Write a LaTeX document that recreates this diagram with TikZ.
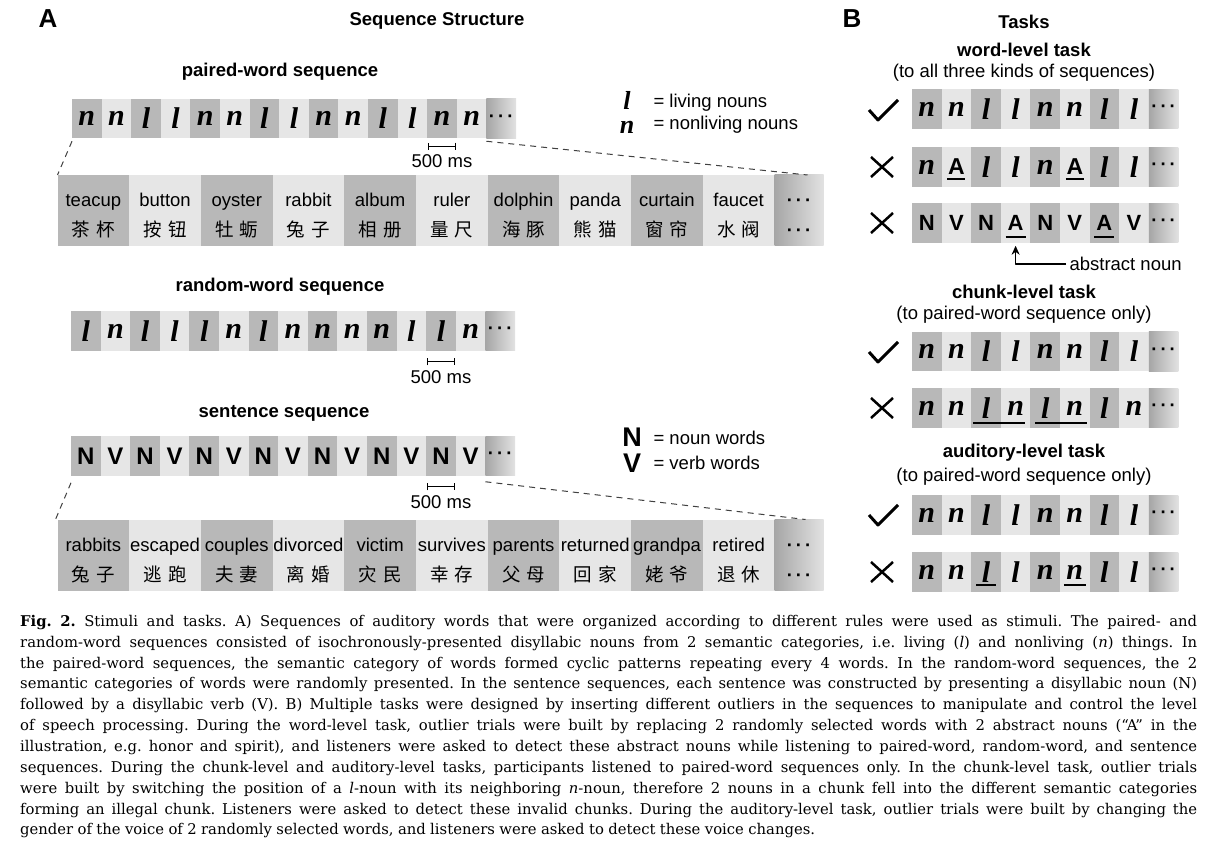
\documentclass[tikz,border=0pt]{standalone}
\usepackage{fontspec}
\setmainfont{Liberation Sans}
\newfontfamily\capfont{DejaVu Serif}
\newfontfamily\timesfont{Liberation Serif}
\newfontfamily\cjk{Noto Sans CJK SC}
\usetikzlibrary{arrows.meta,positioning}
\definecolor{dk}{RGB}{184,184,184}
\definecolor{lt}{RGB}{230,230,230}
\definecolor{dotl}{RGB}{166,166,166}
\definecolor{dotr}{RGB}{226,226,226}
\newcommand\fs[1]{\fontsize{#1}{#1}\selectfont}
\newcommand\dts{{\bfseries ·\kern3pt·\kern3pt·}}
\newcommand\ab{{\normalfont\bfseries\fs{23}A}}
\newcommand\capline[1]{\hbox to 1177pt{\spaceskip=4.4pt plus 1fill minus 1pt\relax#1}}
\newcommand\zhline[2]{\rule[-6pt]{0pt}{6pt}{\cjk#1\hspace{6pt}#2}}
\begin{document}
\begin{tikzpicture}[x=1pt,y=-1pt,>={Stealth[length=9pt,width=8pt]},line join=round,
	cell/.style={minimum width=29.6pt,minimum height=39.5pt,inner sep=0pt,outer sep=0pt},
	wcell/.style={minimum width=71.7pt,minimum height=71pt,inner sep=0pt,outer sep=0pt,align=center,font=\fontsize{18.5}{30}\selectfont},
	dots/.style={left color=dotl,right color=dotr,font=\fs{18.5}},
	it/.style={font=\timesfont\bfseries\itshape\fs{30}},
	nv/.style={font=\bfseries\fs{24}},
	panel/.style={font=\bfseries\fs{26}},
	ttl/.style={font=\bfseries\fs{18.5}},
	txt/.style={font=\fs{18.5}},
	zoomline/.style={dash pattern=on 6pt off 5pt,line width=1pt,black!75},
	bar/.style={arrows={Bar[width=7pt]-Bar[width=7pt]},line width=1pt},
	uline/.style={line width=2pt},
	okmark/.pic={\draw[line width=3pt] (-14,0) -- (-5,10) -- (15,-10);},
	nomark/.pic={\draw[line width=2.5pt] (-11,-10) -- (11,10) (-11,10) -- (11,-10);}]
	\fill[white] (0,0) rectangle (1227,861);
	\useasboundingbox (0,0) rectangle (1227,861);
	
	% A) sequence structure
	\node[panel] (pa) at (48,19) {A};
	\node[ttl] (sst) at (437,21) {Sequence Structure};
	\node[ttl] (pws) at (280,72) {paired-word sequence};
	\foreach \s [count=\i from 0] in {n,n,l,l,n,n,l,l,n,n,l,l,n,n}{
		\ifodd\i\def\tone{lt}\else\def\tone{dk}\fi
		\node[cell,fill=\tone,it] (p\i) at (86.8+\i*29.6,118.5) {\s};}
	\node[cell,dots,right=0pt of p13] (p14) {\dts};
	\draw[bar] ([xshift=1pt,yshift=-8pt]p12.south west) -- node[txt,yshift=-15pt] (pms) {500 ms} ([xshift=-1pt,yshift=-8pt]p12.south east);
	\node[it,font=\timesfont\bfseries\itshape\fs{26}] (lgl) at (627,100) {l};
	\node[txt,anchor=west] (lglt) at (650,103) {= living nouns};
	\node[it,font=\timesfont\bfseries\itshape\fs{26}] (lgn) at (627,127) {n};
	\node[txt,anchor=west] (lgnt) at (650,125) {= nonliving nouns};
	
	\foreach \w/\ha/\hb [count=\i from 0] in {teacup/茶/杯,button/按/钮,oyster/牡/蛎,rabbit/兔/子,album/相/册,ruler/量/尺,dolphin/海/豚,panda/熊/猫,curtain/窗/帘,faucet/水/阀}{
		\ifodd\i\def\tone{lt}\else\def\tone{dk}\fi
		\node[wcell,fill=\tone] (t\i) at (93.35+\i*71.7,210.5) {\rule{0pt}{28.3pt}\w\\\zhline{\ha}{\hb}};}
	\node[wcell,dots,minimum width=49pt,right=0pt of t9,font=\fontsize{18.5}{30}\selectfont] (t10) {\rule{0pt}{28.3pt}\dts\\\rule[-6pt]{0pt}{6pt}\dts};
	\draw[zoomline] ([yshift=-3pt]p0.south west) -- (t0.north west);
	\draw[zoomline] ([yshift=-3pt]p14.south west) -- ([xshift=-16pt]t10.north east);
	
	\node[ttl] (rws) at (280,287) {random-word sequence};
	\foreach \s [count=\i from 0] in {l,n,l,l,l,n,l,n,n,n,n,l,l,n}{
		\ifodd\i\def\tone{lt}\else\def\tone{dk}\fi
		\node[cell,fill=\tone,it] (r\i) at (85.8+\i*29.6,331) {\s};}
	\node[cell,dots,right=0pt of r13] (r14) {\dts};
	\draw[bar] ([xshift=1pt,yshift=-11pt]r12.south west) -- node[txt,yshift=-15pt] (rms) {500 ms} ([xshift=-1pt,yshift=-11pt]r12.south east);
	
	\node[ttl] (sts) at (284,413) {sentence sequence};
	\foreach \s [count=\i from 0] in {N,V,N,V,N,V,N,V,N,V,N,V,N,V}{
		\ifodd\i\def\tone{lt}\else\def\tone{dk}\fi
		\node[cell,fill=\tone,nv] (s\i) at (85.8+\i*29.6,456) {\s};}
	\node[cell,dots,right=0pt of s13] (s14) {\dts};
	\draw[bar] ([xshift=1pt,yshift=-11pt]s12.south west) -- node[txt,yshift=-15pt] (sms) {500 ms} ([xshift=-1pt,yshift=-11pt]s12.south east);
	\node[nv,font=\bfseries\fs{27}] (lgN) at (632,437) {N};
	\node[txt,anchor=west] (lgNt) at (650,438) {= noun words};
	\node[nv,font=\bfseries\fs{27}] (lgV) at (632,463) {V};
	\node[txt,anchor=west] (lgVt) at (650,463) {= verb words};
	
	\foreach \w/\ha/\hb [count=\i from 0] in {rabbits/兔/子,escaped/逃/跑,couples/夫/妻,divorced/离/婚,victim/灾/民,survives/幸/存,parents/父/母,returned/回/家,grandpa/姥/爷,retired/退/休}{
		\ifodd\i\def\tone{lt}\else\def\tone{dk}\fi
		\node[wcell,fill=\tone] (u\i) at (93.35+\i*71.7,555) {\rule{0pt}{28.3pt}\w\\\zhline{\ha}{\hb}};}
	\node[wcell,dots,minimum width=49pt,right=0pt of u9,font=\fontsize{18.5}{30}\selectfont] (u10) {\rule{0pt}{28.3pt}\dts\\\rule[-6pt]{0pt}{6pt}\dts};
	\draw[zoomline] ([yshift=-7pt]s0.south west) -- ([xshift=-2pt]u0.north west);
	\draw[zoomline] ([yshift=-6pt]s14.south west) -- ([xshift=-18pt]u10.north east);
	
	% B) tasks
	\node[panel] (pb) at (852,19) {B};
	\node[ttl] (tsk) at (1024,22) {Tasks};
	\node[ttl] (wlt) at (1024,50) {word-level task};
	\node[txt] (wlo) at (1024,73) {(to all three kinds of sequences)};
	\node[ttl] (clt) at (1024,292) {chunk-level task};
	\node[txt] (clo) at (1024,315) {(to paired-word sequence only)};
	\node[ttl] (alt) at (1024,453) {auditory-level task};
	\node[txt] (alo) at (1024,477) {(to paired-word sequence only)};
	\foreach \r/\y/\lst in {1/109/{n,n,l,l,n,n,l,l},2/167/{n,\ab,l,l,n,\ab,l,l},4/351.5/{n,n,l,l,n,n,l,l},5/408/{n,n,l,n,l,n,l,n},6/515/{n,n,l,l,n,n,l,l},7/572/{n,n,l,l,n,n,l,l}}{
		\foreach \s [count=\i from 0] in \lst{
			\ifodd\i\def\tone{lt}\else\def\tone{dk}\fi
			\node[cell,fill=\tone,it] (b\r-\i) at (926.8+\i*29.6,\y) {\s};}
		\node[cell,dots,right=0pt of b\r-7] (b\r-8) {\dts};}
	\foreach \s [count=\i from 0] in {N,V,N,A,N,V,A,V}{
		\ifodd\i\def\tone{lt}\else\def\tone{dk}\fi
		\node[cell,fill=\tone,nv,font=\bfseries\fs{22}] (b3-\i) at (926.8+\i*29.6,223) {\s};}
	\node[cell,dots,right=0pt of b3-7] (b3-8) {\dts};
	\pic at (883,110) {okmark};
	\pic at (882,167) {nomark};
	\pic at (882,223) {nomark};
	\pic at (883,352) {okmark};
	\pic at (882,408) {nomark};
	\pic at (883,515) {okmark};
	\pic at (882,572) {nomark};
	\draw[uline] ([xshift=-9pt,yshift=8pt]b2-1.south) -- ([xshift=9pt,yshift=8pt]b2-1.south);
	\draw[uline] ([xshift=-9pt,yshift=8pt]b2-5.south) -- ([xshift=9pt,yshift=8pt]b2-5.south);
	\draw[uline] ([xshift=-10pt,yshift=6pt]b3-3.south) -- ([xshift=10pt,yshift=6pt]b3-3.south);
	\draw[uline] ([xshift=-10pt,yshift=6pt]b3-6.south) -- ([xshift=10pt,yshift=6pt]b3-6.south);
	\draw[uline] ([xshift=2pt,yshift=5pt]b5-2.south west) -- ([xshift=-5pt,yshift=5pt]b5-3.south east);
	\draw[uline] ([xshift=5pt,yshift=5pt]b5-4.south west) -- ([xshift=-3pt,yshift=5pt]b5-5.south east);
	\draw[uline] ([xshift=-10pt,yshift=7pt]b7-2.south) -- ([xshift=10pt,yshift=7pt]b7-2.south);
	\draw[uline] ([xshift=-11pt,yshift=7pt]b7-5.south) -- ([xshift=11pt,yshift=7pt]b7-5.south);
	\node[txt,anchor=west] (absn) at (1066,264) {abstract noun};
	\draw[->,line width=1.5pt] (absn.west) -| ([yshift=-3pt]b3-3.south);
	
	% caption
	\node[anchor=north west,inner sep=0pt,text width=1177pt,font=\capfont\fontsize{14.8}{20.85}\selectfont\frenchspacing] (cap) at (20,615) {%
		\capline{\textbf{Fig. 2.} Stimuli and tasks. A) Sequences of auditory words that were organized according to different rules were used as stimuli. The paired- and}
		\capline{random-word sequences consisted of isochronously-presented disyllabic nouns from 2 semantic categories, i.e. living (\textit{l}) and nonliving (\textit{n}) things. In}
		\capline{the paired-word sequences, the semantic category of words formed cyclic patterns repeating every 4 words. In the random-word sequences, the 2}
		\capline{semantic categories of words were randomly presented. In the sentence sequences, each sentence was constructed by presenting a disyllabic noun (N)}
		\capline{followed by a disyllabic verb (V). B) Multiple tasks were designed by inserting different outliers in the sequences to manipulate and control the level}
		\capline{of speech processing. During the word-level task, outlier trials were built by replacing 2 randomly selected words with 2 abstract nouns (“A” in the}
		\capline{illustration, e.g. honor and spirit), and listeners were asked to detect these abstract nouns while listening to paired-word, random-word, and sentence}
		\capline{sequences. During the chunk-level and auditory-level tasks, participants listened to paired-word sequences only. In the chunk-level task, outlier trials}
		\capline{were built by switching the position of a \textit{l}-noun with its neighboring \textit{n}-noun, therefore 2 nouns in a chunk fell into the different semantic categories}
		\capline{forming an illegal chunk. Listeners were asked to detect these invalid chunks. During the auditory-level task, outlier trials were built by changing the}
		\hbox{\spaceskip=4.4pt plus 1pt minus 1pt\relax gender of the voice of 2 randomly selected words, and listeners were asked to detect these voice changes.}};
\end{tikzpicture}
\end{document}
